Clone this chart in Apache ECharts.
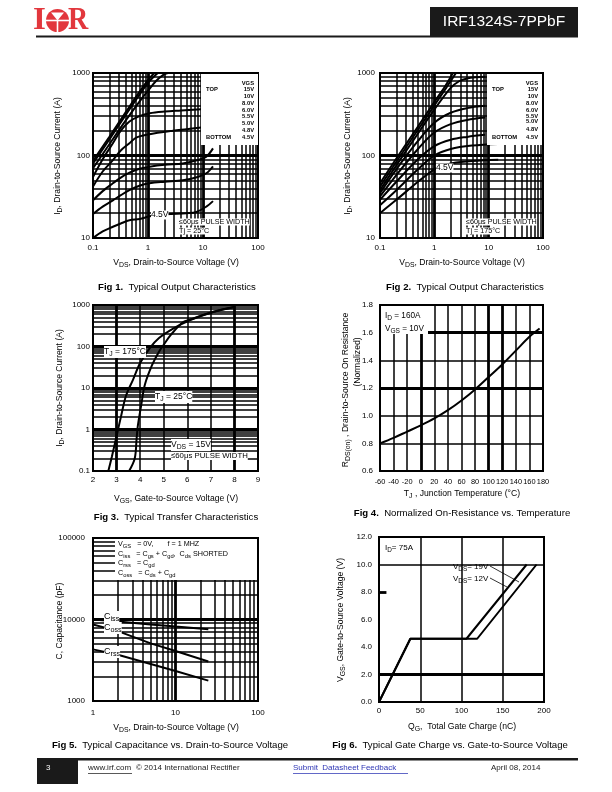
<!DOCTYPE html>
<html><head><meta charset="utf-8">
<script src="https://cdn.jsdelivr.net/npm/echarts@6.0.0/dist/echarts.min.js"></script>
<style>html,body{margin:0;padding:0;background:#fff}#c{width:612px;height:792px}</style>
</head><body><div id="c"></div>
<script>
// ---------------- DATA ----------------
// Fig 1 : Typical output characteristics, Tj = 25 C  [VDS (V), ID (A)]
const fig1Vgs = ['15V','10V','8.0V','6.0V','5.5V','5.0V','4.8V','4.5V'];
const fig1_15 = [[0.1,86],[0.2,170],[0.4,340],[0.7,590],[1.0,820],[1.3,1000]];
const fig1_10 = [[0.1,80],[0.2,158],[0.4,315],[0.7,545],[1.0,760],[1.5,1000]];
const fig1_8  = [[0.1,70],[0.2,138],[0.4,270],[0.7,450],[1.0,610],[1.4,800],[1.9,950],[2.3,1000]];
const fig1_6  = [[0.1,55],[0.15,90],[0.23,141],[0.32,200],[0.46,258],[0.7,300],[1.07,326],[2,342],[4,352],[9.3,364]];
const fig1_55 = [[0.1,42],[0.15,64],[0.23,88],[0.32,115],[0.46,141],[0.61,165],[1.0,180],[2.85,200],[5,208],[9.3,218]];
const fig1_5  = [[0.1,28.6],[0.15,37],[0.23,46],[0.32,54],[0.46,62],[0.7,69],[1.07,73],[2,77],[4.3,80],[8,88],[11.5,97],[15.2,122]];
const fig1_48 = [[0.1,19.5],[0.15,24],[0.23,28.6],[0.32,33],[0.46,38],[0.7,43],[1.07,46],[2,48],[4.3,50],[8,55],[11.5,61],[15.2,74]];
const fig1_45 = [[0.1,10],[0.15,12],[0.23,13.7],[0.32,15],[0.46,16.4],[0.71,17],[1.07,18.3],[2.15,19.4],[5,20],[7.6,20.7],[11.5,24],[15.2,28]];
// Fig 2 : Typical output characteristics, Tj = 175 C
const fig2_15 = [[0.1,46],[0.2,92],[0.5,225],[1.0,445],[1.6,700],[2.2,1000]];
const fig2_10 = [[0.1,42],[0.2,84],[0.5,205],[1.0,405],[1.7,680],[2.5,1000]];
const fig2_8  = [[0.1,38],[0.2,76],[0.5,185],[1.0,360],[2.0,660],[2.9,800],[4,860],[6,890],[8.6,900]];
const fig2_6  = [[0.1,35],[0.2,68],[0.5,150],[1.0,250],[2,330],[4,375],[8.6,400]];
const fig2_55 = [[0.1,32],[0.2,58],[0.5,120],[1.0,190],[2,240],[4,270],[8.6,288]];
const fig2_5  = [[0.1,29],[0.2,48],[0.5,90],[1.0,130],[2,155],[4,168],[8.6,178]];
const fig2_48 = [[0.1,25],[0.2,38],[0.5,68],[1.0,100],[2,120],[5,132],[15,138]];
const fig2_45 = [[0.1,20],[0.2,29],[0.5,48],[1.0,68],[1.5,76],[2.5,82],[5,86],[15,89]];
// Fig 3 : Transfer characteristics [VGS (V), ID (A)]
const fig3_175 = [[2.65,0.1],[2.8,0.22],[3.0,0.7],[3.2,2.2],[3.4,6.5],[3.7,16],[4.0,40],[4.4,90],[4.8,160],[5.4,270],[6.1,430],[7.1,680],[8.0,900]];
const fig3_25  = [[3.53,0.1],[3.77,0.2],[3.85,0.6],[3.9,1.2],[4.05,4],[4.2,12],[4.5,35],[4.8,75],[5.0,110],[5.3,190],[5.8,380],[6.1,440],[7.1,690],[8.0,900]];
// Fig 4 : Normalized RDS(on) vs TJ
const fig4_rds = [[-60,0.80],[-40,0.84],[-20,0.885],[0,0.93],[20,0.98],[40,1.04],[60,1.11],[80,1.19],[100,1.28],[120,1.37],[140,1.47],[160,1.57],[175,1.63]];
// Fig 5 : Capacitance vs VDS [VDS (V), C (pF)]
const fig5_ciss = [[1,10000],[2,9450],[5,8700],[10,8200],[25,7600]];
const fig5_coss = [[1,8700],[2,7200],[5,5100],[10,4100],[25,3050]];
const fig5_crss = [[1,4300],[2,3700],[5,2850],[10,2330],[25,1780]];
// Fig 6 : Gate charge [QG (nC), VGS (V)]
const fig6_12 = [[0,0],[38,4.6],[106,4.6],[179,10]];
const fig6_19 = [[0,0],[38,4.6],[119,4.6],[191,10]];
// tick labels
const fig4XTicks = [-60,-40,-20,0,20,40,60,80,100,120,140,160,180];
const fig6YTicks = ['0.0','2.0','4.0','6.0','8.0','10.0','12.0'];

// ---------------- HELPERS ----------------
const FONT = 'Liberation Sans, Arial, sans-serif';
function logMinor(lo, hi){ // grid lines at 2..9 x decade plus inner decades
  const out=[]; for(let d=lo; d<hi; d*=10){ for(let k=1;k<10;k++){ const v=+(d*k).toPrecision(3); if(v>lo && v<hi) out.push(v);} } return out; }
function gridLines(gi, xs, ys, thickX, thickY, extra){
  const data=[];
  xs.forEach(v=>data.push({xAxis:v, lineStyle:{width:(thickX||[]).includes(v)?2.8:1.5}}));
  ys.forEach(v=>data.push({yAxis:v, lineStyle:{width:(thickY||[]).includes(v)?2.8:1.5}}));
  (extra||[]).forEach(e=>data.push(e));
  return {type:'line', xAxisIndex:gi, yAxisIndex:gi, data:[], z:1, silent:true, animation:false,
    markLine:{silent:true, z:1, animation:false, symbol:['none','none'], label:{show:false},
      lineStyle:{color:'#000', type:'solid', width:1.5}, emphasis:{disabled:true}, data}};
}
function curve(gi, data, smooth){
  return {type:'line', xAxisIndex:gi, yAxisIndex:gi, data, showSymbol:false, symbol:'none',
    smooth: smooth===undefined?0.35:smooth, lineStyle:{color:'#000', width:2}, z:3, animation:false, silent:true};
}
const subRich = (fs)=>({n:{fontSize:fs, fontFamily:FONT, fill:'#000'}, s:{fontSize:Math.round(fs*0.8*10)/10, fontFamily:FONT, fill:'#000', padding:[Math.round(fs*0.55),0,0,0]}, b:{fontSize:fs, fontFamily:FONT, fontWeight:'bold', fill:'#000'}});
function T(x,y,text,o){ o=o||{}; const fs=o.fs||8;
  return {type:'text', x, y, z:o.z||60, rotation:o.rot||0, silent:true,
    style:{text, fontSize:fs, fontFamily:FONT, fontWeight:o.bold?'bold':'normal', fill:o.fill||'#000',
      align:o.align||'left', verticalAlign:o.va||'middle', rich:subRich(fs),
      backgroundColor:o.bg||'transparent', padding:o.pad||0}};
}
function R(x,y,w,h,fill,z){ return {type:'rect', z:z||50, silent:true, shape:{x,y,width:w,height:h}, style:{fill:fill||'#fff'}}; }

// ---------------- GRIDS / AXES ----------------
const grids = [
  {left:93, top:73, width:165, height:165},
  {left:380, top:73, width:163, height:165},
  {left:93, top:305, width:165, height:166},
  {left:380, top:305, width:163, height:166},
  {left:93, top:538, width:165, height:163},
  {left:379, top:537, width:165, height:165}
].map(g=>Object.assign({show:true, borderColor:'#000', borderWidth:2, backgroundColor:'transparent'}, g));

const plain = (v)=>String(v);
const lbl = (m, extra)=>Object.assign({show:true, margin:m, fontSize:8, fontFamily:FONT, color:'#000', showMinLabel:true, showMaxLabel:true, formatter:plain}, extra||{});
const baseAx = {axisLine:{show:false}, axisTick:{show:false}, splitLine:{show:false}};
const xAxes = [
  Object.assign({gridIndex:0, type:'log', logBase:10, min:0.1, max:100, axisLabel:lbl(6)}, baseAx),
  Object.assign({gridIndex:1, type:'log', logBase:10, min:0.1, max:100, axisLabel:lbl(6)}, baseAx),
  Object.assign({gridIndex:2, type:'value', min:2, max:9, interval:1, axisLabel:lbl(5)}, baseAx),
  Object.assign({gridIndex:3, type:'value', min:-60, max:180, interval:20, axisLabel:lbl(7,{fontSize:7.4, formatter:(v)=>fig4XTicks.includes(v)?String(v):''})}, baseAx),
  Object.assign({gridIndex:4, type:'log', logBase:10, min:1, max:100, axisLabel:lbl(8)}, baseAx),
  Object.assign({gridIndex:5, type:'value', min:0, max:200, interval:50, axisLabel:lbl(5)}, baseAx)
];
const yAxes = [
  Object.assign({gridIndex:0, type:'log', logBase:10, min:10, max:1000, axisLabel:lbl(3)}, baseAx),
  Object.assign({gridIndex:1, type:'log', logBase:10, min:10, max:1000, axisLabel:lbl(5)}, baseAx),
  Object.assign({gridIndex:2, type:'log', logBase:10, min:0.1, max:1000, axisLabel:lbl(3)}, baseAx),
  Object.assign({gridIndex:3, type:'value', min:0.6, max:1.8, interval:0.2, axisLabel:lbl(7,{formatter:(v)=>v.toFixed(1)})}, baseAx),
  Object.assign({gridIndex:4, type:'log', logBase:10, min:1000, max:100000, axisLabel:lbl(8)}, baseAx),
  Object.assign({gridIndex:5, type:'value', min:0, max:12, interval:2, axisLabel:lbl(7,{formatter:(v)=>fig6YTicks[Math.round(v/2)]})}, baseAx)
];

// ---------------- SERIES ----------------
const series = [
  gridLines(0, logMinor(0.1,100), logMinor(10,1000), [1,10], [100]),
  gridLines(1, logMinor(0.1,100), logMinor(10,1000), [1,10], [100]),
  gridLines(2, [3,4,5,6,7,8], logMinor(0.1,1000), [3,8], [1,10,100]),
  gridLines(3, [-40,-20,0,20,40,60,80,100,120,140,160], [0.8,1.0,1.2,1.4,1.6], [0,100,120], [1.2,1.6]),
  gridLines(4, logMinor(1,100), logMinor(1000,100000), [10], [10000]),
  gridLines(5, [50,100,150], [2,10], [], [2], [[{coord:[0,8], lineStyle:{width:2.8}},{coord:[9,8]}]]),
  curve(0,fig1_15),curve(0,fig1_10),curve(0,fig1_8),curve(0,fig1_6),curve(0,fig1_55),curve(0,fig1_5),curve(0,fig1_48),curve(0,fig1_45),
  curve(1,fig2_15),curve(1,fig2_10),curve(1,fig2_8),curve(1,fig2_6),curve(1,fig2_55),curve(1,fig2_5),curve(1,fig2_48),curve(1,fig2_45),
  curve(2,fig3_175),curve(2,fig3_25),
  curve(3,fig4_rds),
  curve(4,fig5_ciss,0),curve(4,fig5_coss,0),curve(4,fig5_crss,0),
  curve(5,fig6_12,false),curve(5,fig6_19,false)
];

// ---------------- ANNOTATIONS ----------------
const g = [];
// header logo
const RED = '#e2373d';
g.push({type:'text', x:33, y:21, z:60, silent:true, scaleY:0.95, style:{text:'I', fontSize:33, fontWeight:'bold', fontFamily:'Liberation Serif, serif', fill:RED, align:'left', verticalAlign:'middle'}});
g.push({type:'circle', z:60, silent:true, shape:{cx:57.5, cy:20.5, r:11.5}, style:{fill:RED}});
g.push({type:'polygon', z:61, silent:true, shape:{points:[[51,12.5],[64,12.5],[57.5,20.5]]}, style:{fill:'#fff'}});
g.push({type:'line', z:61, silent:true, shape:{x1:46, y1:20.5, x2:69, y2:20.5}, style:{stroke:'#fff', lineWidth:1.6}});
g.push({type:'line', z:61, silent:true, shape:{x1:57.5, y1:20.5, x2:57.5, y2:32}, style:{stroke:'#fff', lineWidth:1.6}});
g.push({type:'text', x:68, y:21, z:60, silent:true, scaleX:0.85, scaleY:0.95, style:{text:'R', fontSize:33, fontWeight:'bold', fontFamily:'Liberation Serif, serif', fill:RED, align:'left', verticalAlign:'middle'}});
g.push(R(430,7,148,29,'#1a1a1a',55));
g.push(T(504,22,'IRF1324S-7PPbF',{fs:15.5, fill:'#fff', align:'center'}));
g.push(R(36,35.5,542,2,'#1a1a1a',55));
// footer
g.push(R(37,758,541,2.5,'#1a1a1a',55));
g.push(R(37,758,41,26,'#1a1a1a',55));
g.push(T(46,768,'3',{fs:8, fill:'#fff'}));
g.push(T(88,768,'www.irf.com',{fs:8, fill:'#222'}));
g.push(R(88,773,44,0.8,'#222',55));
g.push(T(136,768,'© 2014 International Rectifier',{fs:8, fill:'#222'}));
g.push(T(293,768,'Submit  Datasheet Feedback',{fs:8, fill:'#2e36b5'}));
g.push(R(293,773,115,0.8,'#2e36b5',55));
g.push(T(491,768,'April 08, 2014',{fs:8, fill:'#222'}));

// captions
const cap = (x,y,a,b)=>T(x,y,'{b|'+a+'}{n|  '+b+'}',{fs:9.6, align:'center'});
g.push(cap(177,287.5,'Fig 1.','Typical Output Characteristics'));
g.push(cap(465,287.5,'Fig 2.','Typical Output Characteristics'));
g.push(cap(176,517,'Fig 3.','Typical Transfer Characteristics'));
g.push(cap(462,513,'Fig 4.','Normalized On-Resistance vs. Temperature'));
g.push(cap(170,745,'Fig 5.','Typical Capacitance vs. Drain-to-Source Voltage'));
g.push(cap(450,745,'Fig 6.','Typical Gate Charge vs. Gate-to-Source Voltage'));

// axis titles
const vds = '{n|V}{s|DS}{n|, Drain-to-Source Voltage (V)}';
const idt = '{n|I}{s|D}{n|, Drain-to-Source Current (A)}';
const AT = 8.6;
g.push(T(176,263,vds,{fs:AT, align:'center'}));
g.push(T(462,263,vds,{fs:AT, align:'center'}));
g.push(T(58,156,idt,{fs:AT, align:'center', rot:Math.PI/2}));
g.push(T(348,156,idt,{fs:AT, align:'center', rot:Math.PI/2}));
g.push(T(176,499,'{n|V}{s|GS}{n|, Gate-to-Source Voltage (V)}',{fs:AT, align:'center'}));
g.push(T(60,388,idt,{fs:AT, align:'center', rot:Math.PI/2}));
g.push(T(462,494,'{n|T}{s|J}{n| , Junction Temperature (°C)}',{fs:AT, align:'center'}));
g.push(T(346,390,'{n|R}{s|DS(on)}{n| , Drain-to-Source On Resistance}',{fs:AT, align:'center', rot:Math.PI/2}));
g.push(T(358,362,'(Normalized)',{fs:AT, align:'center', rot:Math.PI/2}));
g.push(T(176,728,vds,{fs:AT, align:'center'}));
g.push(T(60,621,'C, Capacitance (pF)',{fs:AT, align:'center', rot:Math.PI/2}));
g.push(T(462,727,'{n|Q}{s|G}{n|,  Total Gate Charge (nC)}',{fs:AT, align:'center'}));
g.push(T(341,620,'{n|V}{s|GS}{n|, Gate-to-Source Voltage (V)}',{fs:AT, align:'center', rot:Math.PI/2}));

// Fig1/2 legend boxes
function vgsBox(x0, xr, ys){
  g.push(R(x0,74,xr-x0+4,71));
  g.push(T(xr,83,'VGS',{fs:5.8, bold:true, align:'right'}));
  g.push(T(x0+5,89.5,'TOP',{fs:5.8, bold:true}));
  g.push(T(x0+5,137,'BOTTOM',{fs:5.8, bold:true}));
  fig1Vgs.forEach((t,i)=>g.push(T(xr,ys[i],t,{fs:5.8, bold:true, align:'right'})));
}
vgsBox(201,254,[89.5,96.3,103,110.5,116.5,123,130.3,137]);
vgsBox(487,538,[89,96.3,103,110.5,116.5,121.5,129.5,137]);
g.push(T(151,215,'4.5V',{fs:8.5, bg:'#fff'}));
g.push(T(179,222,'≤60μs PULSE WIDTH',{fs:7.2, bg:'#fff'}));
g.push(T(179,231,'Tj = 25°C',{fs:7.2, bg:'#fff'}));
g.push(T(436,168,'4.5V',{fs:8.5, bg:'#fff'}));
g.push(T(466,222,'≤60μs PULSE WIDTH',{fs:7.2, bg:'#fff'}));
g.push(T(466,231,'Tj = 175°C',{fs:7.2, bg:'#fff'}));
// Fig3
g.push(T(104,352,'{n|T}{s|J}{n| = 175°C}',{fs:8.5, bg:'#fff'}));
g.push(T(155,397,'{n|T}{s|J}{n| = 25°C}',{fs:8.5, bg:'#fff'}));
g.push(T(171,445,'{n|V}{s|DS}{n| = 15V}',{fs:8.5, bg:'#fff'}));
g.push(T(171,456,'≤60μs PULSE WIDTH',{fs:7.8, bg:'#fff'}));
// Fig4
g.push(R(381,306,47,28));
g.push(T(385,316,'{n|I}{s|D}{n| = 160A}',{fs:8.2}));
g.push(T(385,329,'{n|V}{s|GS}{n| = 10V}',{fs:8.2}));
// Fig5
g.push(R(115,539,142,41));
g.push(T(118,544,'{n|V}{s|GS}{n|   = 0V,       f = 1 MHZ}',{fs:7.2}));
g.push(T(118,554,'{n|C}{s|iss}{n|   = C}{s|gs}{n| + C}{s|gd}{n|,  C}{s|ds}{n| SHORTED}',{fs:7.2}));
g.push(T(118,563.5,'{n|C}{s|rss}{n|   = C}{s|gd}',{fs:7.2}));
g.push(T(118,573,'{n|C}{s|oss}{n|   = C}{s|ds}{n| + C}{s|gd}',{fs:7.2}));
g.push(T(104,617,'{n|C}{s|iss}',{fs:9, bg:'#fff'}));
g.push(T(104,628,'{n|C}{s|oss}',{fs:9, bg:'#fff'}));
g.push(T(104,652,'{n|C}{s|rss}',{fs:9, bg:'#fff'}));
// Fig6
g.push(T(385,548,'{n|I}{s|D}{n|= 75A}',{fs:8, bg:'#fff'}));
g.push(T(453,567,'{n|V}{s|DS}{n|= 19V}',{fs:8}));
g.push(T(453,579,'{n|V}{s|DS}{n|= 12V}',{fs:8}));
g.push({type:'line', z:60, silent:true, shape:{x1:490, y1:566, x2:519, y2:582}, style:{stroke:'#000', lineWidth:0.8}});
g.push({type:'line', z:60, silent:true, shape:{x1:490, y1:578, x2:507, y2:587}, style:{stroke:'#000', lineWidth:0.8}});

const chart = echarts.init(document.getElementById('c'), null, {renderer:'canvas'});
chart.setOption({animation:false, backgroundColor:'#fff', grid:grids, xAxis:xAxes, yAxis:yAxes, series, graphic:{elements:g}});
</script></body></html>
